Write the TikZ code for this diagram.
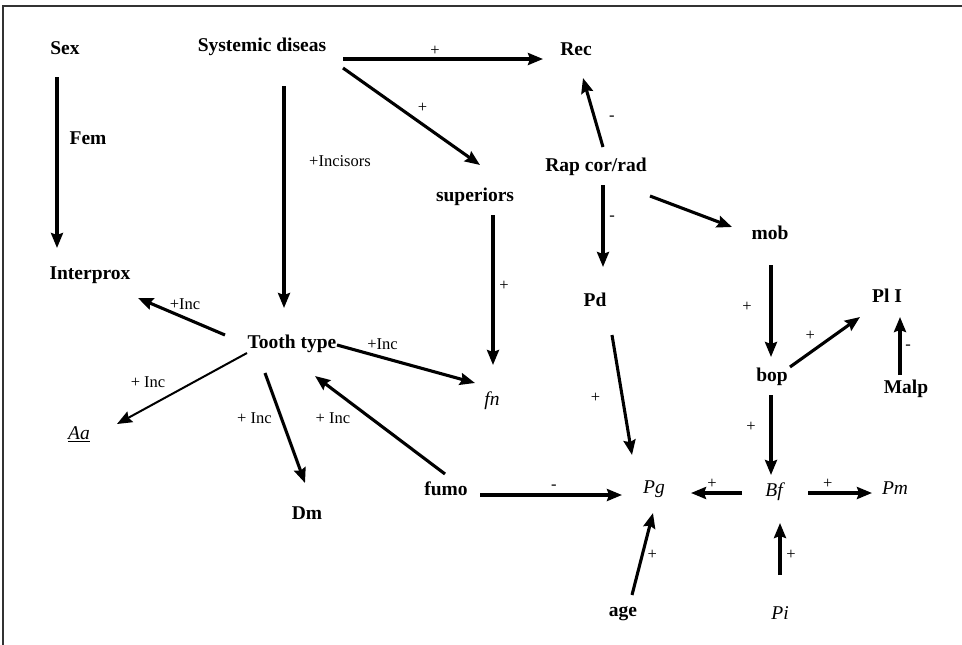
\documentclass[tikz,border=0pt]{standalone}
\usepackage{fontspec}
\setmainfont{Liberation Serif}
\usetikzlibrary{arrows,arrows.meta,positioning}
\tikzstyle{arrow} = [line width=3.1pt, -{Stealth[length=15pt,width=12pt,inset=2pt]}]
\tikzstyle{thinarrow} = [line width=2pt, -{Stealth[length=15pt,width=12pt,inset=2pt]}]

\begin{document}
\begin{tikzpicture}[x=1pt,y=-1pt]
\tikzset{var/.style={font=\fontsize{19.5}{22}\selectfont\bfseries, inner sep=0pt},
 ivar/.style={font=\fontsize{19.5}{22}\selectfont\itshape, inner sep=0pt},
 lbl/.style={font=\fontsize{16.5}{18}\selectfont, inner sep=0pt}}
\useasboundingbox (0,0) rectangle (962,645);
\draw[line width=1.6pt, black!80] (3,645) -- (3,6) -- (962,6);

\node[var] (sex) at (65,48) {Sex};
\node[var] (sys) at (262,47) {Systemic diseas};
\node[var] (rec) at (576,49) {Rec};
\node[var] (superiors) at (475,197) {superiors};
\node[var] (rap) at (596,167) {Rap cor/rad};
\node[var] (mob) at (770,233) {mob};
\node[var] (interprox) at (90,275) {Interprox};
\node[var] (pli) at (887,296) {Pl I};
\node[var] (pd) at (595,300) {Pd};
\node[var] (tooth) at (292,344) {Tooth type};
\node[ivar] (fn) at (492,401) {fn};
\node[var] (bop) at (772,377) {bop};
\node[var] (malp) at (906,389) {Malp};
\node[ivar] (aa) at (79,434) {\underline{Aa}};
\node[var] (fumo) at (446,489) {fumo};
\node[var] (dm) at (307,513) {Dm};
\node[ivar] (pg) at (654,489) {Pg};
\node[ivar] (bf) at (774,492) {Bf};
\node[ivar] (pm) at (895,488) {Pm};
\node[var] (age) at (623,614) {age};
\node[ivar] (pi) at (780,613) {Pi};

\draw[arrow] ([shift={(-8,29)}]sex.center) -- node[var, pos=.36, xshift=31pt] (fem) {Fem} ([shift={(-33,-27)}]interprox.center);
\draw[arrow] ([shift={(22,39)}]sys.center) -- node[lbl, pos=.34, xshift=56pt] {+Incisors} ([shift={(-8,-36)}]tooth.center);
\draw[arrow] ([shift={(81,12)}]sys.center) -- node[lbl, pos=.46, yshift=8pt] {+} ([shift={(-33,10)}]rec.center);
\draw[arrow] ([shift={(81,21)}]sys.center) -- node[lbl, pos=.58, yshift=16pt] {+} ([shift={(5,-32)}]superiors.center);
\draw[arrow] ([shift={(18,18)}]superiors.center) -- node[lbl, pos=.47, xshift=11pt] {+} ([shift={(1,-36)}]fn.center);
\draw[arrow] ([shift={(7,-20)}]rap.center) -- node[lbl, pos=.41, xshift=17pt] {-} ([shift={(7,29)}]rec.center);
\draw[arrow] ([shift={(7,18)}]rap.center) -- node[lbl, pos=.4, xshift=9pt] {-} ([shift={(8,-33)}]pd.center);
\draw[arrow] ([shift={(54,29)}]rap.center) -- ([shift={(-38,-6)}]mob.center);
\draw[arrow] ([shift={(1,32)}]mob.center) -- node[lbl, pos=.46, xshift=-24pt] {+} ([shift={(-1,-20)}]bop.center);
\draw[arrow] ([shift={(18,-10)}]bop.center) -- node[lbl, pos=.29, yshift=17pt] {+} ([shift={(-27,21)}]pli.center);
\draw[arrow] ([shift={(-6,-14)}]malp.center) -- node[lbl, pos=.47, xshift=8pt] {-} ([shift={(13,21)}]pli.center);
\draw[arrow] ([shift={(17,35)}]pd.center) -- node[lbl, pos=.52, xshift=-27pt] {+} ([shift={(-22,-34)}]pg.center);
\draw[arrow] ([shift={(-1,18)}]bop.center) -- node[lbl, pos=.4, xshift=-20pt] {+} ([shift={(-3,-17)}]bf.center);
\draw[arrow] ([shift={(-32,1)}]bf.center) -- node[lbl, pos=.59, yshift=9pt] {+} ([shift={(37,4)}]pg.center);
\draw[arrow] ([shift={(34,1)}]bf.center) -- node[lbl, pos=.31, yshift=9pt] {+} ([shift={(-23,5)}]pm.center);
\draw[arrow] ([shift={(0,-38)}]pi.center) -- node[lbl, pos=.38, xshift=11pt] {+} ([shift={(6,31)}]bf.center);
\draw[arrow] ([shift={(9,-19)}]age.center) -- node[lbl, pos=.49, xshift=10pt] {+} ([shift={(-1,24)}]pg.center);
\draw[arrow] ([shift={(34,6)}]fumo.center) -- node[lbl, pos=.52, yshift=8pt] {-} ([shift={(-32,6)}]pg.center);
\draw[arrow] ([shift={(-1,-15)}]fumo.center) -- node[lbl, pos=.57, xshift=-38pt] {+ Inc} ([shift={(23,32)}]tooth.center);
\draw[arrow] ([shift={(45,1)}]tooth.center) -- node[lbl, pos=.33, yshift=13pt] {+Inc} ([shift={(-17,-18)}]fn.center);
\draw[arrow] ([shift={(-27,29)}]tooth.center) -- node[lbl, pos=.41, xshift=-27pt] {+ Inc} ([shift={(-2,-30)}]dm.center);
\draw[thinarrow] ([shift={(-45,9)}]tooth.center) -- node[lbl, pos=.6, xshift=-21pt, yshift=13pt] {+ Inc} ([shift={(38,-10)}]aa.center);
\draw[arrow] ([shift={(-67,-9)}]tooth.center) -- node[lbl, pos=.46, yshift=14pt] {+Inc} ([shift={(48,23)}]interprox.center);
\end{tikzpicture}
\end{document}
